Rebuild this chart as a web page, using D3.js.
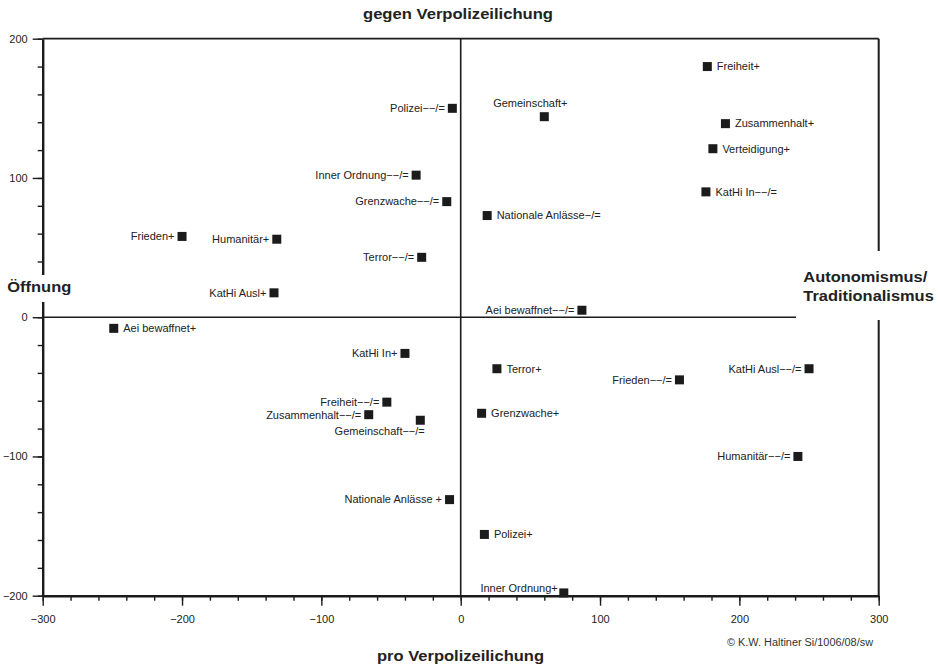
<!DOCTYPE html>
<html><head><meta charset="utf-8">
<script src="https://cdn.jsdelivr.net/npm/d3@7"></script>
<style>
body{margin:0;background:#fff}
svg{display:block}
text{font-family:"Liberation Sans",Arial,Helvetica,sans-serif}
</style>
</head><body>
<svg id="chart" width="938" height="665"></svg>
<script>
// ---- data ----
const labels = [
  "Freiheit+", "Gemeinschaft+", "Zusammenhalt+", "Verteidigung+", "KatHi In\u2212\u2212/=",
  "Nationale Anlässe\u2212/=", "Aei bewaffnet\u2212\u2212/=", "Polizei\u2212\u2212/=", "Inner Ordnung\u2212\u2212/=",
  "Grenzwache\u2212\u2212/=", "Frieden+", "Humanitär+", "Terror\u2212\u2212/=", "KatHi Ausl+",
  "Aei bewaffnet+", "KatHi In+", "Freiheit\u2212\u2212/=", "Zusammenhalt\u2212\u2212/=", "Gemeinschaft\u2212\u2212/=",
  "Nationale Anlässe +", "Terror+", "Frieden\u2212\u2212/=", "KatHi Ausl\u2212\u2212/=", "Grenzwache+",
  "Humanitär\u2212\u2212/=", "Polizei+", "Inner Ordnung+"
];
const xValues = [177, 60, 190, 181, 176, 19, 87, -6, -32, -10, -200, -132, -28, -134,
  -249, -40, -53, -66, -29, -8, 26, 157, 250, 15, 242, 17, 74];
const yValues = [180, 144, 139, 121, 90, 73, 5, 150, 102, 83, 58, 56, 43, 17.5,
  -8, -26, -61, -70, -74, -131, -37, -45, -37, -69, -100, -156, -198];
const labelSide = ["right","above","right","right","right","right","left","left","left",
  "left","left","left","left","left","right","left","left","left","below",
  "left","right","left","left","right","left","right","upleft"];
const xTicks = [-300, -200, -100, 0, 100, 200, 300];
const yTicks = [-200, -100, 0, 100, 200];
const xDomain = [-300, 300];
const yDomain = [-200, 200];
const titleTop = "gegen Verpolizeilichung";
const titleBottom = "pro Verpolizeilichung";
const titleLeft = "Öffnung";
const titleRight = ["Autonomismus/", "Traditionalismus"];
const credit = "\u00A9 K.W.  Haltiner Si/1006/08/sw";

// ---- drawing ----
const svg = d3.select("#chart");
const ink = "#1b1b1b";
const x = d3.scaleLinear().domain(xDomain).range([42.7, 878.7]);
const y = d3.scaleLinear().domain(yDomain).range([595.7, 38.7]);

// frame: top and right borders
svg.append("line").attr("x1", x(-300)).attr("x2", x(300)).attr("y1", y(200)).attr("y2", y(200))
  .attr("stroke", ink).attr("stroke-width", 1.8);
svg.append("line").attr("x1", x(300)).attr("x2", x(300)).attr("y1", y(200)).attr("y2", y(-200))
  .attr("stroke", ink).attr("stroke-width", 2);
// zero lines
svg.append("line").attr("x1", x(0)).attr("x2", x(0)).attr("y1", y(200)).attr("y2", y(-200))
  .attr("stroke", ink).attr("stroke-width", 1.6);
svg.append("line").attr("x1", x(-300)).attr("x2", x(300)).attr("y1", y(0)).attr("y2", y(0))
  .attr("stroke", ink).attr("stroke-width", 1.6);

function styleAxis(g, w) {
  g.selectAll(".tick line").attr("stroke", ink).attr("stroke-width", 1.4);
  g.selectAll(".domain").attr("stroke", ink).attr("stroke-width", w);
  g.selectAll("text").attr("fill", "#222").style("font-size", "11px")
    .style("font-family", '"Liberation Sans",Arial,sans-serif');
}

// left axis: minor and major
const gyMinor = svg.append("g").attr("transform", `translate(${x(-300)},0)`)
  .call(d3.axisLeft(y).tickValues(d3.range(-200, 201, 20)).tickSize(5).tickFormat(""));
gyMinor.select(".domain").remove();
styleAxis(gyMinor, 0);
const gy = svg.append("g").attr("transform", `translate(${x(-300)},0)`)
  .call(d3.axisLeft(y).tickValues(yTicks).tickSize(10).tickSizeOuter(0).tickPadding(5));
styleAxis(gy, 2.4);

// bottom axis: minor and major
const gxMinor = svg.append("g").attr("transform", `translate(0,${y(-200)})`)
  .call(d3.axisBottom(x).tickValues(d3.range(-300, 301, 20)).tickSize(5).tickFormat(""));
gxMinor.select(".domain").remove();
styleAxis(gxMinor, 0);
const gx = svg.append("g").attr("transform", `translate(0,${y(-200)})`)
  .call(d3.axisBottom(x).tickValues(xTicks).tickSize(10).tickSizeOuter(0).tickPadding(10));
styleAxis(gx, 2.6);

// points
const pts = labels.map((l, i) => ({label: l, xv: xValues[i], yv: yValues[i], side: labelSide[i]}));
const half = 4.5;
svg.append("g").selectAll("rect").data(pts).join("rect")
  .attr("x", d => x(d.xv) - half).attr("y", d => y(d.yv) - half)
  .attr("width", half * 2).attr("height", half * 2).attr("fill", ink);

svg.append("g").selectAll("text").data(pts).join("text")
  .attr("x", d => {
    const cx = x(d.xv);
    if (d.side === "right") return cx + half + 5;
    if (d.side === "left") return cx - half - 3;
    if (d.side === "above") return cx - 14;
    if (d.side === "below") return cx + half;
    return cx - half - 1.5;
  })
  .attr("y", d => {
    const cy = y(d.yv);
    if (d.side === "above") return cy - 14;
    if (d.side === "below") return cy + 11;
    if (d.side === "upleft") return cy - 5;
    return cy;
  })
  .attr("dy", "0.35em")
  .attr("text-anchor", d => d.side === "right" ? "start" : (d.side === "above" ? "middle" : "end"))
  .style("font-size", "11px").attr("fill", "#222")
  .text(d => d.label);

// gaps behind side titles
svg.append("rect").attr("x", 0).attr("y", 275).attr("width", 76).attr("height", 27).attr("fill", "#fff");
svg.append("rect").attr("x", 796).attr("y", 251).attr("width", 142).attr("height", 69).attr("fill", "#fff");

// axis titles
function boldText(txt, tx, ty, anchor, len) {
  svg.append("text").attr("x", tx).attr("y", ty).attr("text-anchor", anchor)
    .style("font-size", "15px").style("font-weight", "bold").attr("fill", "#222")
    .attr("textLength", len).attr("lengthAdjust", "spacingAndGlyphs").text(txt);
}
boldText(titleTop, 458, 19, "middle", 190);
boldText(titleBottom, 460.5, 661, "middle", 167);
boldText(titleLeft, 7.3, 292, "start", 64);
boldText(titleRight[0], 803.3, 281.5, "start", 124);
boldText(titleRight[1], 803.3, 301, "start", 130.5);

svg.append("text").attr("x", 727).attr("y", 646).style("font-size", "10px").attr("fill", "#333")
  .attr("textLength", 146).attr("lengthAdjust", "spacingAndGlyphs").text(credit);
</script>
</body></html>
